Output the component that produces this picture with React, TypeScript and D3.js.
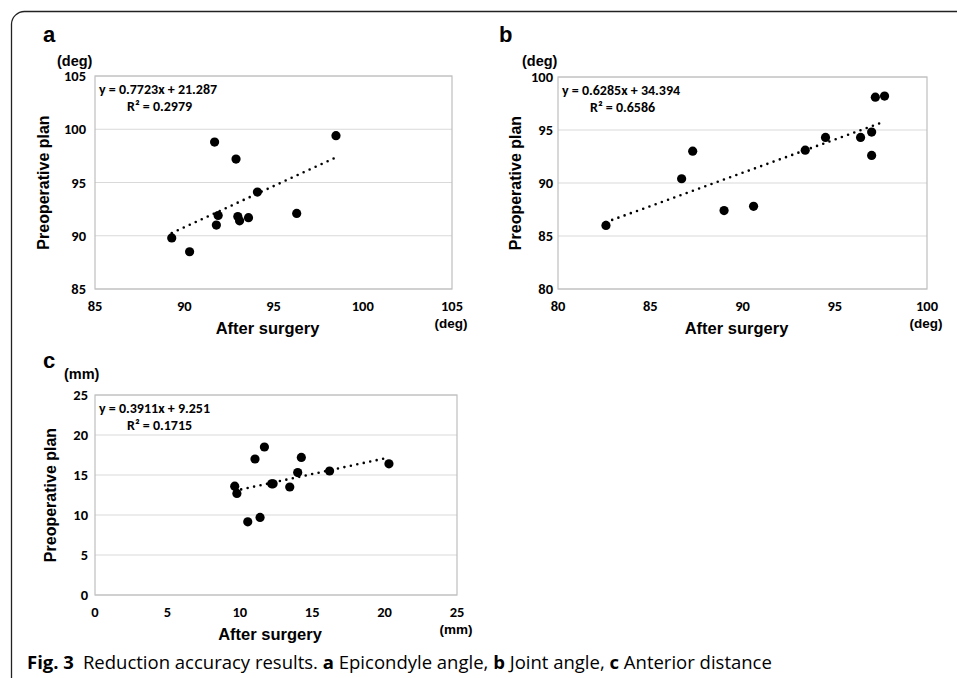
import React from 'react';
import * as d3 from 'd3';

// panel a: epicondyle angle (deg)
const aAfter = [89.3, 90.3, 91.7, 91.8, 91.9, 92.9, 93.0, 93.1, 93.6, 94.1, 96.3, 98.5];
const aPlan = [89.8, 88.5, 98.8, 91.0, 91.9, 97.2, 91.8, 91.4, 91.7, 94.1, 92.1, 99.4];
const aFit = { slope: 0.7723, intercept: 21.287, eq: 'y = 0.7723x + 21.287', r2: 'R² = 0.2979' };

// panel b: joint angle (deg)
const bAfter = [82.6, 86.7, 87.3, 89.0, 90.6, 93.4, 94.5, 96.4, 97.0, 97.0, 97.2, 97.7];
const bPlan = [86.0, 90.4, 93.0, 87.4, 87.8, 93.1, 94.3, 94.3, 94.8, 92.6, 98.1, 98.2];
const bFit = { slope: 0.6285, intercept: 34.394, eq: 'y = 0.6285x + 34.394', r2: 'R² = 0.6586' };

// panel c: anterior distance (mm)
const cAfter = [9.65, 9.8, 10.55, 11.05, 11.4, 11.7, 12.2, 12.3, 13.45, 14.0, 14.25, 16.2, 20.3];
const cPlan = [13.6, 12.7, 9.15, 17.0, 9.7, 18.5, 13.9, 13.9, 13.5, 15.3, 17.2, 15.5, 16.4];
const cFit = { slope: 0.3911, intercept: 9.251, eq: 'y = 0.3911x + 9.251', r2: 'R² = 0.1715' };

const degTicks = [85, 90, 95, 100, 105];
const bTicks = [80, 85, 90, 95, 100];
const mmTicks = [0, 5, 10, 15, 20, 25];

const tickFont = "Carlito, 'Liberation Sans Narrow', 'Noto Sans', sans-serif";
const titleFont = "'Liberation Sans', Arial, sans-serif";

type PanelProps = {
  letter: string;
  unit: string;
  xs: number[];
  ys: number[];
  fit: { slope: number; intercept: number; eq: string; r2: string };
  ticks: number[];
  box: { x0: number; x1: number; y0: number; y1: number };
  letterY: number;
  letterX: number;
  unitX: number;
  unitY: number;
  labelRight: number;
  ytitleX: number;
};

function Panel(p: PanelProps) {
  const { box, ticks } = p;
  const x = d3.scaleLinear().domain([ticks[0], ticks[ticks.length - 1]]).range([box.x0, box.x1]);
  const y = d3.scaleLinear().domain([ticks[0], ticks[ticks.length - 1]]).range([box.y1, box.y0]);
  const [mn, mx] = d3.extent(p.xs) as [number, number];
  const line = d3.line<number>().x(d => x(d)).y(d => y(p.fit.slope * d + p.fit.intercept));
  const tickY = box.y1 + 22;
  const cx = (box.x0 + box.x1) / 2 - 6;
  const last = ticks[ticks.length - 1];
  return (
    <g>
      <text x={p.letterX} y={p.letterY} fontFamily={titleFont} fontWeight="bold" fontSize={22}>{p.letter}</text>
      <text x={p.unitX} y={p.unitY} fontFamily={titleFont} fontWeight="bold" fontSize={14.5}>{p.unit}</text>
      {ticks.map(t => (
        <line key={'g' + t} x1={box.x0} x2={box.x1} y1={y(t)} y2={y(t)} stroke="#d9d9d9" strokeWidth={1} />
      ))}
      <rect x={box.x0} y={box.y0} width={box.x1 - box.x0} height={box.y1 - box.y0} fill="none" stroke="#bfbfbf" strokeWidth={1.2} />
      {ticks.map(t => (
        <text key={'y' + t} x={p.labelRight} y={y(t)} dy="0.35em" textAnchor="end" fontFamily={tickFont} fontWeight="bold" fontSize={14.5}>{t}</text>
      ))}
      {ticks.map(t => t === last ? (
        <text key={'x' + t} x={x(t)} y={tickY} textAnchor="middle" fontWeight="bold">
          <tspan fontFamily={tickFont} fontSize={14.5}>{t}</tspan>
          <tspan x={x(t) - 1} dy={16.5} fontFamily={titleFont} fontSize={13.5}>{p.unit}</tspan>
        </text>
      ) : (
        <text key={'x' + t} x={x(t)} y={tickY} textAnchor="middle" fontFamily={tickFont} fontWeight="bold" fontSize={14.5}>{t}</text>
      ))}
      <text x={cx} y={tickY + 23} textAnchor="middle" fontFamily={titleFont} fontWeight="bold" fontSize={16.5}>After surgery</text>
      <text transform={`translate(${p.ytitleX},${(box.y0 + box.y1) / 2}) rotate(-90)`} textAnchor="middle" fontFamily={titleFont} fontWeight="bold" fontSize={16}>Preoperative plan</text>
      <path d={line([mn, mx]) || ''} fill="none" stroke="#000" strokeWidth={2.6} strokeDasharray="0 6.6" strokeLinecap="round" />
      {p.xs.map((v, i) => (
        <circle key={i} cx={x(v)} cy={y(p.ys[i])} r={4.6} fill="#000" />
      ))}
      <text x={box.x0 + 4} y={box.y0 + 18} fontFamily={tickFont} fontWeight="bold" fontSize={14}>{p.fit.eq}</text>
      <text x={box.x0 + 32} y={box.y0 + 35} fontFamily={tickFont} fontWeight="bold" fontSize={14}>{p.fit.r2}</text>
    </g>
  );
}

export default function App() {
  return (
    <svg width={957} height={678} style={{ position: 'absolute', left: 0, top: 0, background: '#fff' }}>
      <path d="M11.5,680 L11.5,24 A13,13 0 0 1 24.5,11.5 L960,11.5" fill="none" stroke="#222" strokeWidth={1.3} />
      <Panel letter="a" unit="(deg)" xs={aAfter} ys={aPlan} fit={aFit} ticks={degTicks}
        box={{ x0: 95, x1: 452, y0: 76, y1: 289 }} letterX={43} letterY={42} unitX={57} unitY={66}
        labelRight={86} ytitleX={49} />
      <Panel letter="b" unit="(deg)" xs={bAfter} ys={bPlan} fit={bFit} ticks={bTicks}
        box={{ x0: 558, x1: 927, y0: 77, y1: 289 }} letterX={499} letterY={42} unitX={522} unitY={66}
        labelRight={553} ytitleX={521} />
      <Panel letter="c" unit="(mm)" xs={cAfter} ys={cPlan} fit={cFit} ticks={mmTicks}
        box={{ x0: 95, x1: 457, y0: 395, y1: 595 }} letterX={43} letterY={368} unitX={64} unitY={379}
        labelRight={88} ytitleX={56} />
      <text x={27} y={669} fontFamily="'Open Sans', sans-serif" fontSize={18.5}>
        <tspan fontWeight="bold">Fig. 3</tspan>
        <tspan dx={9}>Reduction accuracy results. </tspan>
        <tspan fontWeight="bold">a</tspan>
        <tspan> Epicondyle angle, </tspan>
        <tspan fontWeight="bold">b</tspan>
        <tspan> Joint angle, </tspan>
        <tspan fontWeight="bold">c</tspan>
        <tspan> Anterior distance</tspan>
      </text>
    </svg>
  );
}
